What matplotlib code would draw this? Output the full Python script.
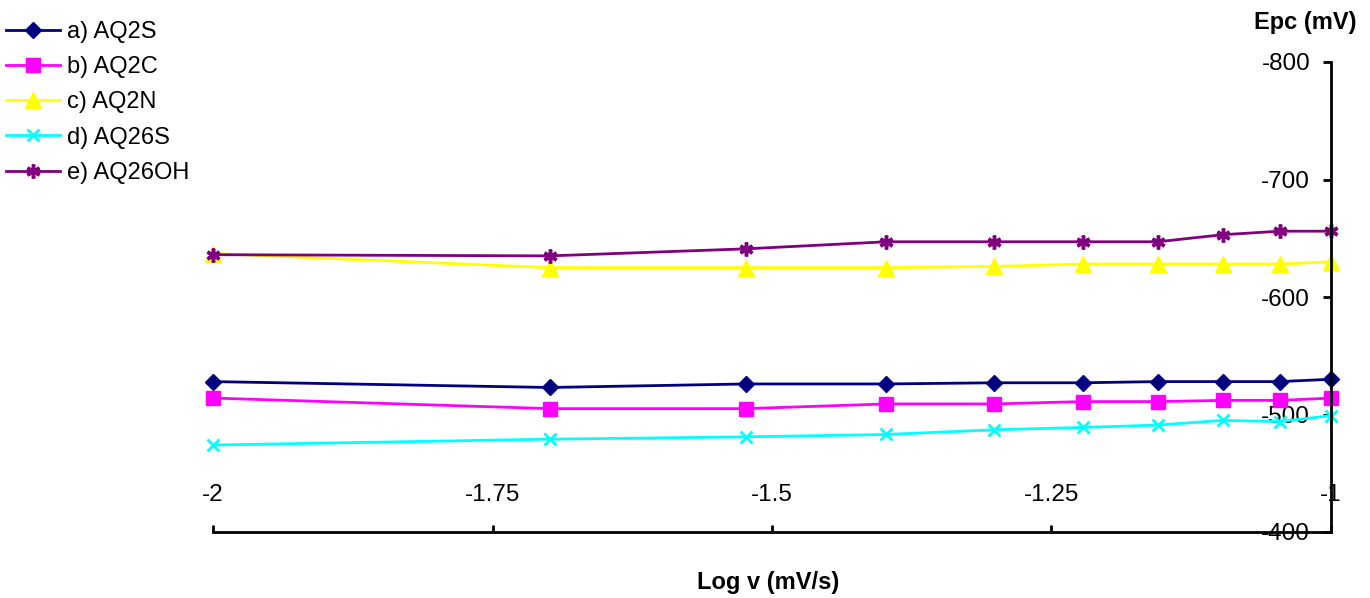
import matplotlib
matplotlib.use("Agg")
import matplotlib.pyplot as plt

plt.rcParams['font.family'] = ['Liberation Sans', 'DejaVu Sans']

log_v = [-2, -1.699, -1.523, -1.398, -1.301, -1.222, -1.155, -1.097, -1.046, -1]
aq2s = [-528, -523, -526, -526, -527, -527, -528, -528, -528, -530]
aq2c = [-514, -505, -505, -509, -509, -511, -511, -512, -512, -514]
aq2n = [-637, -625, -625, -625, -626, -628, -628, -628, -628, -630]
aq26s = [-474, -479, -481, -483, -487, -489, -491, -495, -494, -499]
aq26oh = [-636, -635, -641, -647, -647, -647, -647, -653, -656, -656]

labels = ["a) AQ2S", "b) AQ2C", "c) AQ2N", "d) AQ26S", "e) AQ26OH"]
x_ticks = [-2, -1.75, -1.5, -1.25, -1]
x_tick_labels = ["-2", "-1.75", "-1.5", "-1.25", "-1"]
y_ticks = [-800, -700, -600, -500, -400]

W, H = 1370, 598
fig = plt.figure(figsize=(W / 100, H / 100), dpi=100)
ax = fig.add_axes([213 / W, 1 - 532 / H, (1331 - 213) / W, (532 - 62) / H])

styles = [
    dict(color="#000080", marker="D", markersize=8),
    dict(color="#FF00FF", marker="s", markersize=10),
    dict(color="#FFFF00", marker="^", markersize=11),
    dict(color="#00FFFF", marker="x", markersize=9, markeredgewidth=2),
    dict(color="#800080", marker=(6, 2, 0), markersize=10, markeredgewidth=2.5),
]
series = [aq2s, aq2c, aq2n, aq26s, aq26oh]
for ys, lab, st in zip(series, labels, styles):
    ax.plot(log_v, ys, lw=2, label=lab, clip_on=False, **st)

ax.set_xlim(-2, -1)
ax.set_ylim(-400, -800)

for s in ["right", "bottom"]:
    ax.spines[s].set_visible(False)
ax.spines["left"].set_position(("data", -1))
ax.spines["top"].set_position(("data", -400))
for s in ["left", "top"]:
    ax.spines[s].set_linewidth(2)

ax.xaxis.tick_top()
ax.set_xticks(x_ticks)
ax.set_xticklabels(x_tick_labels)
ax.set_yticks(y_ticks)
ax.set_yticklabels([str(v) for v in y_ticks])
ax.tick_params(axis="x", direction="out", length=5, width=2, pad=14, labelsize=17.5)
ax.tick_params(axis="y", direction="out", length=6, width=2, pad=9, labelsize=17.5)

fig.text(1357 / W, 1 - 22 / H, "Epc (mV)", ha="right", va="center",
         fontsize=17, fontweight="bold")
fig.text(768 / W, 1 - 582 / H, "Log v (mV/s)", ha="center", va="center",
         fontsize=17, fontweight="bold")

fig.legend(loc="upper left", bbox_to_anchor=(6 / W, 1 - 21 / H), frameon=False,
           fontsize=17, handlelength=2.3, handletextpad=0.3, labelspacing=0.56,
           borderpad=0, borderaxespad=0)

fig.savefig("out.png", dpi=100)
